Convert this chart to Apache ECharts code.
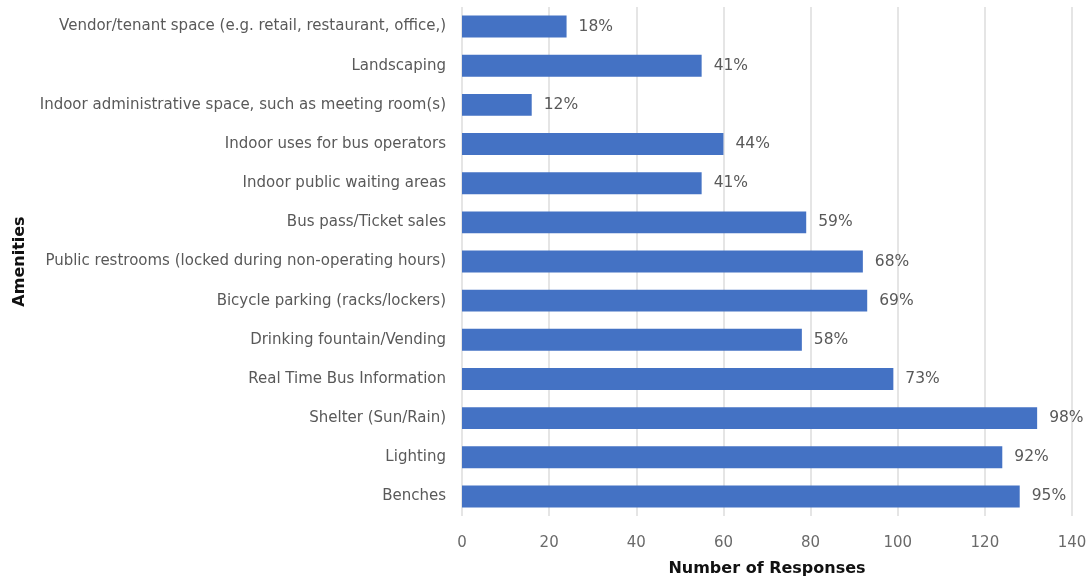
<!DOCTYPE html>
<html>
<head>
<meta charset="utf-8">
<script src="https://cdn.jsdelivr.net/npm/echarts@6/dist/echarts.min.js"></script>
<style>
html,body{margin:0;padding:0;background:#fff;}
#chart{width:1091px;height:582px;}
</style>
</head>
<body>
<div id="chart"></div>
<script>
// Categories listed bottom-to-top (as drawn by the category axis)
const categories = [
  "Benches",
  "Lighting",
  "Shelter (Sun/Rain)",
  "Real Time Bus Information",
  "Drinking fountain/Vending",
  "Bicycle parking (racks/lockers)",
  "Public restrooms (locked during non-operating hours)",
  "Bus pass/Ticket sales",
  "Indoor public waiting areas",
  "Indoor uses for bus operators",
  "Indoor administrative space, such as meeting room(s)",
  "Landscaping",
  "Vendor/tenant space (e.g. retail, restaurant, office,)"
];
const responses = [128, 124, 132, 99, 78, 93, 92, 79, 55, 60, 16, 55, 24];
const percentLabels = ["95%", "92%", "98%", "73%", "58%", "69%", "68%", "59%", "41%", "44%", "12%", "41%", "18%"];
const xTicks = [0, 20, 40, 60, 80, 100, 120, 140];

const chart = echarts.init(document.getElementById('chart'));
const fontFam = '"DejaVu Sans", "Noto Sans", sans-serif';
chart.setOption({
  animation: false,
  grid: {left: 462, right: 19, top: 7, bottom: 63, containLabel: false},
  xAxis: {
    type: 'value',
    min: xTicks[0],
    max: xTicks[xTicks.length - 1],
    interval: 20,
    name: 'Number of Responses',
    nameLocation: 'middle',
    nameGap: 45,
    nameTextStyle: {fontFamily: fontFam, fontWeight: 'bold', fontSize: 16, color: '#111'},
    axisLine: {show: false},
    axisTick: {show: false},
    axisLabel: {fontFamily: fontFam, fontSize: 15, color: '#6a6a6a', margin: 20},
    splitLine: {show: true, lineStyle: {color: '#dcdcdc', width: 1.5}}
  },
  yAxis: {
    type: 'category',
    data: categories,
    name: 'Amenities',
    nameLocation: 'middle',
    nameRotate: 90,
    nameGap: 434,
    nameTextStyle: {fontFamily: fontFam, fontWeight: 'bold', fontSize: 16, color: '#111'},
    axisLine: {show: false},
    axisTick: {show: false},
    axisLabel: {fontFamily: fontFam, fontSize: 15, color: '#595959', margin: 16}
  },
  series: [{
    type: 'bar',
    data: responses,
    barCategoryGap: '44%',
    itemStyle: {color: '#4472C4'},
    label: {
      show: true,
      position: 'right',
      distance: 12,
      fontFamily: fontFam,
      fontSize: 15.5,
      color: '#595959',
      formatter: p => percentLabels[p.dataIndex]
    }
  }]
});
</script>
</body>
</html>
